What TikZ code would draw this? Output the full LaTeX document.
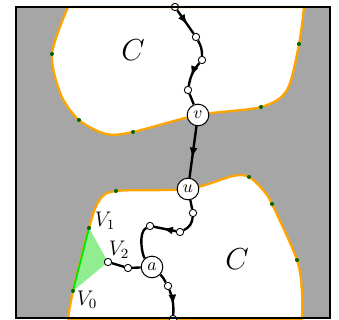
\documentclass[tikz,border=0pt]{standalone}
\usetikzlibrary{arrows.meta,decorations.markings}
\definecolor{RegionGray}{RGB}{166,166,166}
\definecolor{BoundOrange}{RGB}{255,165,0}
\definecolor{DotGreen}{RGB}{0,100,0}
\definecolor{FanGreen}{RGB}{144,238,144}
\definecolor{EdgeGreen}{RGB}{0,230,0}

\begin{document}
\begin{tikzpicture}[x=0.2mm, y=-0.2mm,
  pt/.style={circle, draw, fill=white, inner sep=0pt, minimum size=4.2pt, line width=0.5pt},
  vtx/.style={circle, draw, fill=white, inner sep=0pt, minimum size=12.3pt, line width=0.6pt},
  gdot/.style={circle, fill=DotGreen, inner sep=0pt, minimum size=2.3pt},
  walk/.style={line width=1.35pt},
  arr/.style={walk, postaction={decorate},
    decoration={markings, mark=at position 0.62 with {\arrow{Latex[length=6pt,width=4.5pt]}}}},
  region/.style={fill=white, draw=BoundOrange, line width=1.3pt, line join=round}]
  \useasboundingbox (0,0) rectangle (339,320);
  \fill[RegionGray] (16,7) rectangle (330,318);
  % the two regions C
  \path[region] plot[smooth] coordinates {(68,7) (52,54) (61,95) (79,120) (106,134) (133,132) (198,115) (261,107) (287,90) (299,44) (304,7)} -- cycle;
  \path[region] plot[smooth] coordinates {(68,319) (73,291) (89,228) (99,201) (116,191) (188,189) (233,176) (249,177) (263,190) (272,204) (297,260) (302,293) (302,319)} -- cycle;
  \node (C1) at (133,50) {\LARGE $C$};
  \node (C2) at (237,259) {\LARGE $C$};
  % green fan
  \coordinate (V0) at (73,291);
  \coordinate (V1) at (89,228);
  \fill[FanGreen] (V0) -- (V1) -- (108,262) -- cycle;
  \draw[EdgeGreen, line width=1pt] (V0) -- (V1);
  \foreach \p in {(52,54),(79,120),(133,132),(261,107),(299,44),
                  (116,191),(249,177),(272,204),(297,260),(89,228),(73,291)}
    \node[gdot] at \p {};
  \node (lV0) at (87,300) {\large $V_0$};
  \node (lV1) at (105,221) {\large $V_1$};
  \node (lV2) at (119,250) {\large $V_2$};
  % the walk
  \node[pt] (p0) at (175,7) {};
  \node[pt] (p1) at (196,37) {};
  \node[pt] (p2) at (202,60) {};
  \node[pt] (p3) at (188,90) {};
  \node[vtx] (v) at (198,115) {$v$};
  \node[vtx] (u) at (188,189) {$u$};
  \node[pt] (q1) at (193,213) {};
  \node[pt] (q2) at (180,232) {};
  \node[pt] (q3) at (150,226) {};
  \node[vtx] (a) at (152,267) {$a$};
  \node[pt] (r1) at (128,268) {};
  \node[pt] (V2) at (108,262) {};
  \node[pt] (r2) at (168,286) {};
  \node[pt] (p9) at (173,319) {};
  \draw[arr] (p0) -- (p1);
  \draw[walk] (p1) to[bend left=15] (p2);
  \draw[arr] (p2) to[bend right=15] (p3);
  \draw[walk] (p3) -- (v);
  \draw[arr] (v) -- (u);
  \draw[walk] (u) -- (q1);
  \draw[walk] (q1) to[bend left=30] (q2);
  \draw[arr] (q2) -- (q3);
  \draw[walk] (q3) .. controls (138,232) and (142,255) .. (a);
  \draw[walk] (a) -- (r1) -- (V2);
  \draw[walk] (a) to[bend left=8] (r2);
  \draw[arr] (r2) to[bend left=12] (p9);
  \draw[line width=1.6pt] (16,7) rectangle (330,318);
\end{tikzpicture}
\end{document}
